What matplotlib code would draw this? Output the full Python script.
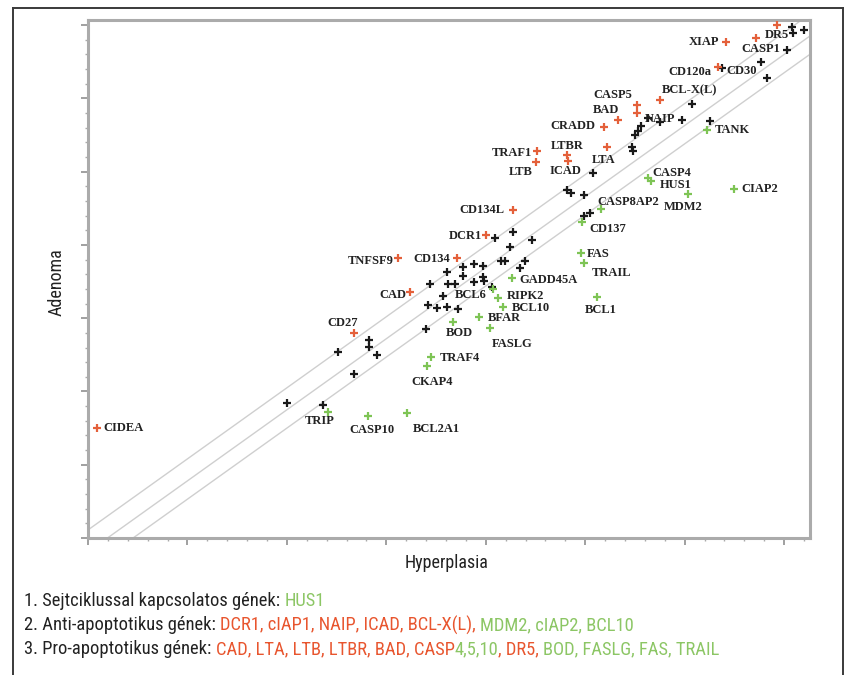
import matplotlib
matplotlib.use("Agg")
import matplotlib.pyplot as plt
from matplotlib.ticker import MultipleLocator
from matplotlib.lines import Line2D

RED = "#e4603a"
GREEN = "#7ec455"
TXT_RED = "#e8552e"
TXT_GREEN = "#8cc665"

# genes up in adenoma (red)
red_names = ["CIDEA", "CD27", "CAD", "TNFSF9", "CD134", "DCR1", "CD134L", "TRAF1", "LTB",
             "LTBR", "ICAD", "LTA", "CRADD", "BAD", "CASP5", "", "BCL-X(L)", "CD120a",
             "XIAP", "DR5", ""]
red_x = [0.09, 2.67, 3.24, 3.12, 3.71, 4.00, 4.27, 4.51, 4.50, 4.82, 4.83, 5.22, 5.19,
         5.33, 5.52, 5.52, 5.75, 6.33, 6.42, 6.72, 6.93]
red_y = [1.50, 2.80, 3.36, 3.82, 3.82, 4.13, 4.47, 5.28, 5.13, 5.23, 5.14, 5.33, 5.61,
         5.70, 5.91, 5.80, 5.98, 6.43, 6.77, 6.82, 7.00]

# genes down in adenoma (green)
green_names = ["TRIP", "CASP10", "BCL2A1", "CKAP4", "TRAF4", "BOD", "FASLG", "BFAR",
               "BCL10", "RIPK2", "GADD45A", "", "BCL1", "TRAIL", "FAS", "CD137",
               "CASP8AP2", "CASP4", "HUS1", "MDM2", "CIAP2", "TANK"]
green_x = [2.41, 2.82, 3.21, 3.41, 3.45, 3.67, 4.04, 3.93, 4.17, 4.12, 4.26, 4.07, 5.12,
           4.99, 4.96, 4.97, 5.16, 5.63, 5.66, 6.03, 6.50, 6.22]
green_y = [1.72, 1.66, 1.71, 2.35, 2.47, 2.95, 2.86, 3.02, 3.15, 3.27, 3.55, 3.40, 3.29,
           3.75, 3.89, 4.31, 4.49, 4.92, 4.87, 4.69, 4.76, 5.57]

# unchanged genes with a label
black_names = ["BCL6", "NAIP", "CD30", "CASP1"]
black_lx = [3.88, 5.56, 6.38, 7.03]
black_ly = [3.49, 5.63, 6.41, 6.66]

# unchanged genes without a label
black_x = [2.00, 2.36, 2.51, 2.67, 2.83, 2.83, 2.91, 3.40, 3.42, 3.51, 3.61, 3.72, 3.57,
           3.44, 3.62, 3.69, 3.61, 3.77, 3.88, 3.97, 3.77, 3.97, 3.98, 4.06, 4.09,
           4.27, 4.46, 4.24, 4.15, 4.19, 4.39, 4.34, 4.82, 4.86, 4.99, 5.08, 4.99, 5.05,
           5.47, 5.48, 5.50, 5.53, 5.63, 5.75, 5.97, 6.07, 6.25, 6.77, 6.83, 7.08,
           7.09, 7.20]
black_y = [1.84, 1.81, 2.54, 2.24, 2.70, 2.61, 2.50, 2.85, 3.18, 3.14, 3.15, 3.12, 3.30,
           3.47, 3.47, 3.47, 3.63, 3.70, 3.74, 3.71, 3.57, 3.56, 3.51, 3.42, 4.09,
           4.17, 4.07, 3.97, 3.78, 3.78, 3.78, 3.68, 4.75, 4.71, 4.68, 4.98, 4.39, 4.43,
           5.33, 5.28, 5.50, 5.55, 5.73, 5.68, 5.70, 5.92, 5.69, 6.49, 6.28, 6.97,
           6.89, 6.93]

# reference lines y = slope * x + c
line_slope = 0.97
line_offsets = [0.11, -0.19, -0.44]

# label placement: (dx px, dy px, ha)
label_pos = {
    "CIDEA": (6, 0, "left"), "CD27": (-11, 10, "center"), "CAD": (-4, -3, "right"),
    "TNFSF9": (-5, -3, "right"), "CD134": (-7, -1, "right"), "DCR1": (-4, -1, "right"),
    "CD134L": (-8, 0, "right"), "TRAF1": (-5, -2, "right"), "LTB": (-3, -10, "right"),
    "LTBR": (0, 9, "center"), "ICAD": (-3, -10, "center"), "LTA": (-4, -13, "center"),
    "CRADD": (-9, 1, "right"), "BAD": (-12, 10, "center"), "CASP5": (-5, 10, "right"),
    "BCL-X(L)": (2, 10, "left"), "CD120a": (-6, -5, "right"), "XIAP": (-7, 0, "right"),
    "DR5": (8, 3, "left"),
    "TRIP": (-8, -9, "center"), "CASP10": (3, -14, "center"), "BCL2A1": (6, -16, "left"),
    "CKAP4": (5, -16, "center"), "TRAF4": (9, -1, "left"), "BOD": (6, -11, "center"),
    "FASLG": (2, -16, "left"), "BFAR": (9, -1, "left"), "BCL10": (9, -1, "left"),
    "RIPK2": (9, 2, "left"), "GADD45A": (8, -2, "left"), "BCL1": (4, -13, "center"),
    "TRAIL": (7, -10, "left"), "FAS": (6, -1, "left"), "CD137": (7, -7, "left"),
    "CASP8AP2": (-4, 7, "left"), "CASP4": (4, 5, "left"), "HUS1": (9, -4, "left"),
    "MDM2": (-5, -13, "center"), "CIAP2": (7, 0, "left"), "TANK": (8, 0, "left"),
    "BCL6": (-3, -13, "center"), "NAIP": (4, 7, "left"), "CD30": (4, -3, "left"),
    "CASP1": (-7, 1, "right"),
}

legend_lines = [
    [("1. Sejtciklussal kapcsolatos gének: ", "#222222"), ("HUS1", TXT_GREEN)],
    [("2. Anti-apoptotikus gének: ", "#222222"), ("DCR1, cIAP1, NAIP, ICAD, BCL-X(L), ", TXT_RED),
     ("MDM2, cIAP2, BCL10", TXT_GREEN)],
    [("3. Pro-apoptotikus gének: ", "#222222"), ("CAD, LTA, LTB, LTBR, BAD, CASP", TXT_RED),
     ("4,5,10", TXT_GREEN), (", DR5, ", TXT_RED), ("BOD, FASLG, FAS, TRAIL", TXT_GREEN)],
]

W, H = 848, 675
fig = plt.figure(figsize=(W / 100, H / 100), dpi=100)
ax = fig.add_axes([88 / W, 1 - 538 / H, (810 - 88) / W, (538 - 20) / H])

ax.set_xlim(0, 7.26)
ax.set_ylim(0, 7.07)

xs = [0, 7.26]
for c in line_offsets:
    ax.plot(xs, [line_slope * v + c for v in xs], color="#cfcfcf", lw=1.0, zorder=1)

mk = dict(marker="+", ls="none", ms=6, mew=1.6, zorder=3)
ax.plot(black_x, black_y, color="#1a1a1a", **mk)
ax.plot(black_lx, black_ly, color="#1a1a1a", **mk)
ax.plot(green_x, green_y, color=GREEN, **mk)
ax.plot(red_x, red_y, color=RED, **mk)

lab_font = dict(family="Liberation Serif", fontweight="bold", fontsize=9, color="#222222")
for names, gx, gy in [(red_names, red_x, red_y), (green_names, green_x, green_y),
                      (black_names, black_lx, black_ly)]:
    for n, x, y in zip(names, gx, gy):
        if not n:
            continue
        dx, dy, ha = label_pos[n]
        ax.annotate(n, (x, y), xytext=(dx, dy), textcoords="offset pixels",
                    ha=ha, va="center", zorder=4, **lab_font)

for s in ax.spines.values():
    s.set_color("#ababab")
    s.set_linewidth(2.2)
ax.xaxis.set_major_locator(MultipleLocator(1))
ax.xaxis.set_minor_locator(MultipleLocator(0.2))
ax.yaxis.set_major_locator(MultipleLocator(1))
ax.yaxis.set_minor_locator(MultipleLocator(0.2))
ax.tick_params(which="major", direction="out", length=5, width=1.3, color="#999999",
               labelbottom=False, labelleft=False)
ax.tick_params(which="minor", direction="out", length=2.5, width=1.0, color="#aaaaaa")

cond = ["Roboto Condensed", "DejaVu Sans"]
axis_font = dict(family=cond, fontweight="normal", fontsize=13, color="#222222")
fig.text(57 / W, 1 - 282 / H, "Adenoma", rotation=90, ha="center", va="center", **axis_font)
fig.text(447 / W, 1 - 563 / H, "Hyperplasia", ha="center", va="center", **axis_font)

# outer frame
fc = "#3a3a3a"
fig.add_artist(Line2D([13 / W, 13 / W], [0, 1 - 8 / H], transform=fig.transFigure, color=fc, lw=1.4))
fig.add_artist(Line2D([843 / W, 843 / W], [0, 1 - 8 / H], transform=fig.transFigure, color=fc, lw=1.4))
fig.add_artist(Line2D([13 / W, 843 / W], [1 - 8 / H, 1 - 8 / H], transform=fig.transFigure, color=fc, lw=1.4))

# multi-coloured legend lines, size fitted so the last line ends near x=718
renderer = fig.canvas.get_renderer()


def measure(s, size):
    t = fig.text(0, 0, s, family=cond, fontweight="normal", fontsize=size)
    w = t.get_window_extent(renderer).width
    t.remove()
    return w


base = 13
full3 = "".join(s for s, _ in legend_lines[2])
size = base * (716 - 24) / measure(full3, base)
space_w = measure("a a", size) - measure("aa", size)
leg_font = dict(family=cond, fontweight="normal", fontsize=size)

for i, parts in enumerate(legend_lines):
    xpx = 24
    ypx = 601 + 24 * i
    for s, c in parts:
        core = s.rstrip(" ")
        t = fig.text(xpx / W, 1 - ypx / H, core, color=c, ha="left", va="center", **leg_font)
        xpx += t.get_window_extent(renderer).width + space_w * (len(s) - len(core))

fig.savefig("out.png", dpi=100)
